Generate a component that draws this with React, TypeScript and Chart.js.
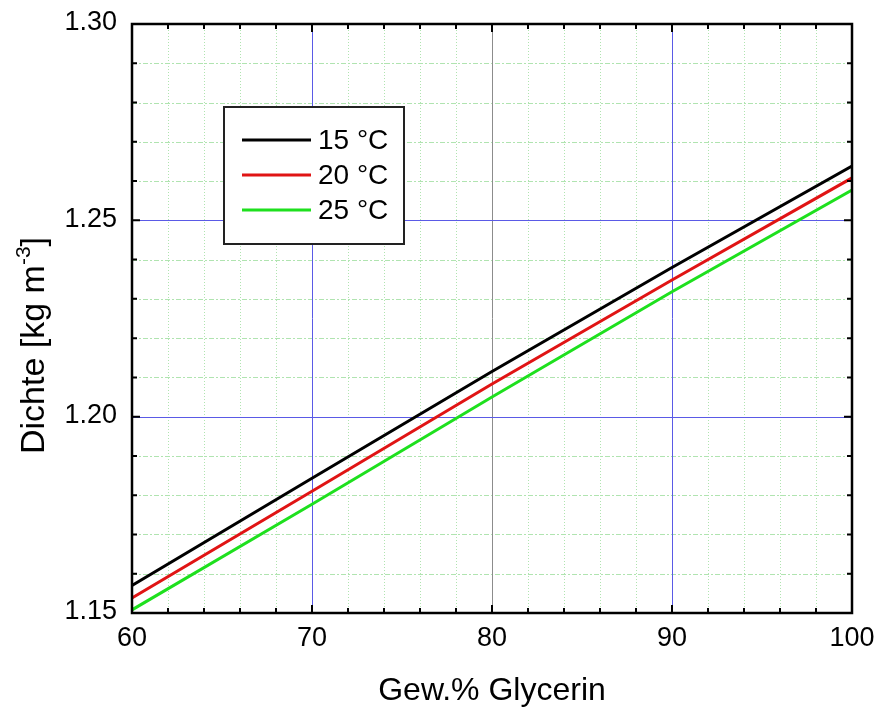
import React, { useEffect, useRef } from 'react';
import { Chart, registerables } from 'chart.js';

Chart.register(...registerables);

// ---- data ----
const glycerinPct = [60, 70, 80, 90, 100];
const density15 = [1.157, 1.1843, 1.2115, 1.238, 1.2638];
const density20 = [1.1538, 1.181, 1.2083, 1.2348, 1.2608];
const density25 = [1.1508, 1.1777, 1.205, 1.2318, 1.2577];
const seriesLabels = ['15 °C', '20 °C', '25 °C'];
const seriesColors = ['#000000', '#e01414', '#1ee01e'];
const xTitle = 'Gew.% Glycerin';
const yTitleMain = 'Dichte [kg m';
const yTitleSup = '-3';
const yTitleEnd = ']';
const xRange = [60, 100];
const yRange = [1.15, 1.3];

const FONT = '"Liberation Sans", Arial, Helvetica, sans-serif';

const isMajorX = (v: number) => Math.round(v) % 10 === 0;
const isMajorY = (v: number) => Math.round(v * 100) % 5 === 0;

const framePlugin = {
  id: 'framePlugin',
  beforeDatasetsDraw(chart: any) {
    const { ctx, chartArea: a, scales } = chart;
    const x = scales.x;
    const y = scales.y;
    ctx.save();
    ctx.lineWidth = 1;
    // minor grid
    ctx.strokeStyle = '#b0e4b0';
    x.ticks.forEach((t: any) => {
      const v = t.value;
      if (isMajorX(v)) return;
      const px = Math.round(x.getPixelForValue(v)) + 0.5;
      ctx.setLineDash([1, 2]);
      ctx.beginPath();
      ctx.moveTo(px, a.top);
      ctx.lineTo(px, a.bottom);
      ctx.stroke();
    });
    y.ticks.forEach((t: any) => {
      const v = t.value;
      if (isMajorY(v)) return;
      const py = Math.round(y.getPixelForValue(v)) + 0.5;
      ctx.setLineDash([5, 2, 2, 2]);
      ctx.beginPath();
      ctx.moveTo(a.left, py);
      ctx.lineTo(a.right, py);
      ctx.stroke();
    });
    // major grid
    ctx.setLineDash([]);
    x.ticks.forEach((t: any) => {
      const v = t.value;
      if (!isMajorX(v) || v <= x.min || v >= x.max) return;
      const px = Math.round(x.getPixelForValue(v)) + 0.5;
      ctx.strokeStyle = Math.round(v) === 80 ? '#8c8c8c' : '#5a5ae6';
      ctx.beginPath();
      ctx.moveTo(px, a.top);
      ctx.lineTo(px, a.bottom);
      ctx.stroke();
    });
    y.ticks.forEach((t: any) => {
      const v = t.value;
      if (!isMajorY(v) || v <= y.min + 1e-9 || v >= y.max - 1e-9) return;
      const py = Math.round(y.getPixelForValue(v)) + 0.5;
      ctx.strokeStyle = '#5a5ae6';
      ctx.beginPath();
      ctx.moveTo(a.left, py);
      ctx.lineTo(a.right, py);
      ctx.stroke();
    });
    ctx.restore();
  },
  afterDatasetsDraw(chart: any) {
    const { ctx, chartArea: a, scales } = chart;
    const x = scales.x;
    const y = scales.y;
    ctx.save();
    // tick marks (inward, all four sides)
    ctx.strokeStyle = '#000';
    ctx.lineWidth = 2;
    x.ticks.forEach((t: any) => {
      const v = t.value;
      const len = isMajorX(v) ? 8 : 5;
      const px = x.getPixelForValue(v);
      ctx.beginPath();
      ctx.moveTo(px, a.bottom);
      ctx.lineTo(px, a.bottom - len);
      ctx.moveTo(px, a.top);
      ctx.lineTo(px, a.top + len);
      ctx.stroke();
    });
    y.ticks.forEach((t: any) => {
      const v = t.value;
      const len = isMajorY(v) ? 8 : 5;
      const py = y.getPixelForValue(v);
      ctx.beginPath();
      ctx.moveTo(a.left, py);
      ctx.lineTo(a.left + len, py);
      ctx.moveTo(a.right, py);
      ctx.lineTo(a.right - len, py);
      ctx.stroke();
    });
    // frame
    ctx.lineWidth = 2.5;
    ctx.strokeRect(a.left, a.top, a.right - a.left, a.bottom - a.top);

    // tick labels
    ctx.fillStyle = '#000';
    ctx.font = `27px ${FONT}`;
    ctx.textBaseline = 'middle';
    ctx.textAlign = 'center';
    x.ticks.forEach((t: any) => {
      const v = t.value;
      if (!isMajorX(v)) return;
      ctx.fillText(String(Math.round(v)), x.getPixelForValue(v), a.bottom + 26);
    });
    ctx.textAlign = 'right';
    y.ticks.forEach((t: any) => {
      const v = t.value;
      if (!isMajorY(v)) return;
      ctx.fillText(Number(v).toFixed(2), a.left - 15, y.getPixelForValue(v) - 1);
    });

    // legend
    const bx = a.left + 92;
    const by = a.top + 83;
    const bw = 180;
    const bh = 137;
    ctx.fillStyle = '#fff';
    ctx.fillRect(bx, by, bw, bh);
    ctx.lineWidth = 2;
    ctx.strokeStyle = '#222';
    ctx.strokeRect(bx, by, bw, bh);
    ctx.font = `28px ${FONT}`;
    ctx.textBaseline = 'middle';
    ctx.textAlign = 'left';
    chart.data.datasets.forEach((ds: any, i: number) => {
      const ly = by + 33 + i * 35;
      ctx.strokeStyle = ds.borderColor;
      ctx.lineWidth = 3;
      ctx.beginPath();
      ctx.moveTo(bx + 18, ly);
      ctx.lineTo(bx + 87, ly);
      ctx.stroke();
      ctx.fillStyle = '#000';
      ctx.fillText(ds.label, bx + 94, ly + 1);
    });

    // y axis title with superscript
    const mainFont = `34px ${FONT}`;
    const supFont = `21px ${FONT}`;
    ctx.font = mainFont;
    const w1 = ctx.measureText(yTitleMain).width;
    const w3 = ctx.measureText(yTitleEnd).width;
    ctx.font = supFont;
    const w2 = ctx.measureText(yTitleSup).width;
    const total = w1 + w2 + w3;
    const cx = 32;
    const cy = (a.top + a.bottom) / 2 + 27;
    ctx.translate(cx, cy);
    ctx.rotate(-Math.PI / 2);
    ctx.fillStyle = '#000';
    ctx.textBaseline = 'alphabetic';
    ctx.textAlign = 'left';
    const sx = -total / 2;
    const base = 12;
    ctx.font = mainFont;
    ctx.fillText(yTitleMain, sx, base);
    ctx.font = supFont;
    ctx.fillText(yTitleSup, sx + w1, base - 14);
    ctx.font = mainFont;
    ctx.fillText(yTitleEnd, sx + w1 + w2, base);
    ctx.restore();
  },
};

export default function App() {
  const ref = useRef<HTMLCanvasElement | null>(null);
  useEffect(() => {
    if (!ref.current) return;
    const mk = (vals: number[]) => glycerinPct.map((p, i) => ({ x: p, y: vals[i] }));
    const all = [density15, density20, density25];
    const chart = new Chart(ref.current, {
      type: 'line',
      data: {
        datasets: all.map((vals, i) => ({
          label: seriesLabels[i],
          data: mk(vals),
          borderColor: seriesColors[i],
          backgroundColor: seriesColors[i],
          borderWidth: 3,
          pointRadius: 0,
          tension: 0,
          fill: false,
        })),
      },
      options: {
        responsive: false,
        animation: false,
        events: [],
        layout: { padding: { top: 24, right: 26, left: 0, bottom: 0 } },
        plugins: {
          legend: { display: false },
          tooltip: { enabled: false },
          title: { display: false },
        },
        scales: {
          x: {
            type: 'linear',
            min: xRange[0],
            max: xRange[1],
            grid: { display: false, drawTicks: false },
            border: { display: false },
            ticks: { stepSize: 2, autoSkip: false, display: false },
            title: {
              display: true,
              text: xTitle,
              color: '#000',
              font: { family: FONT, size: 32, lineHeight: 1.2 },
              padding: { top: 0, bottom: 3 },
            },
            afterFit: (s: any) => {
              s.height = 100;
            },
          },
          y: {
            type: 'linear',
            min: yRange[0],
            max: yRange[1],
            grid: { display: false, drawTicks: false },
            border: { display: false },
            ticks: { stepSize: 0.01, autoSkip: false, display: false },
            title: { display: false },
            afterFit: (s: any) => {
              s.width = 132;
            },
          },
        },
      },
      plugins: [framePlugin],
    } as any);
    return () => chart.destroy();
  }, []);
  return (
    <div style={{ position: 'fixed', left: 0, top: 0, width: 878, height: 713, background: '#fff' }}>
      <canvas ref={ref} width={878} height={713} style={{ display: 'block' }} />
    </div>
  );
}
